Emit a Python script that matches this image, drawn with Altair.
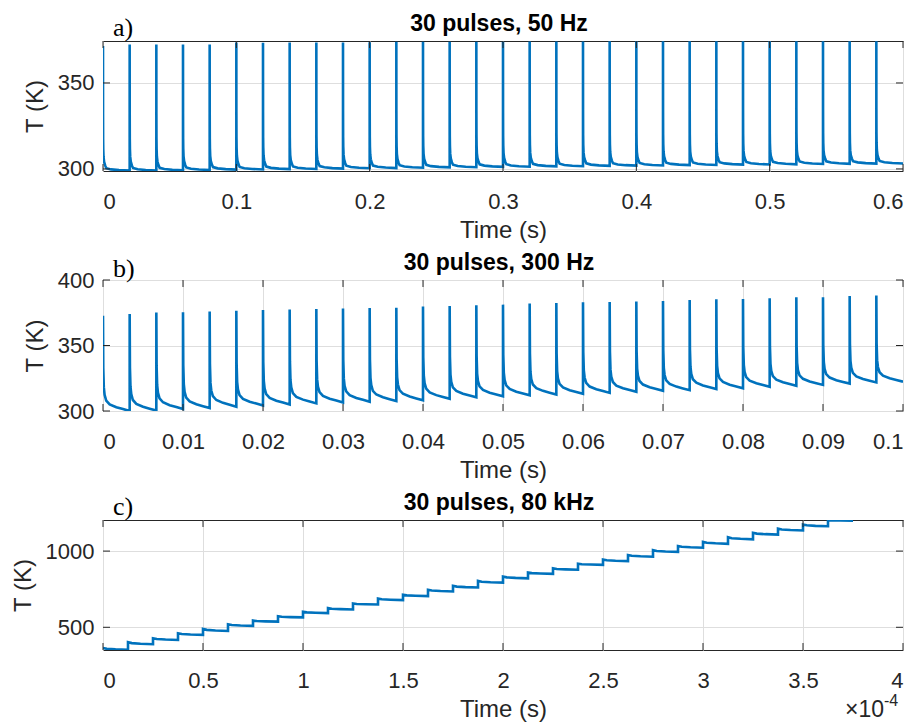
import altair as alt
import pandas as pd

# ---------------- data ----------------
N_PULSES = 30

# panel a: 30 pulses, 50 Hz (time in s)
A_PERIOD = 0.02
A_PEAKS = [371.5, 372.3, 372.3, 372.3, 372.4, 373.5, 373.4, 373.5, 373.5, 373.6,
           373.7, 374.0, 374.0, 374.0, 374.0, 374.0, 374.1, 374.1, 374.1, 374.2,
           374.3, 374.3, 374.3, 374.3, 374.3, 374.3, 374.3, 374.3, 374.3, 374.3]
A_TROUGHS = [299.0, 299.1, 299.2, 299.4, 299.6, 299.7, 299.9, 300.0, 300.2, 300.4,
             300.5, 300.7, 300.9, 301.0, 301.2, 301.3, 301.5, 301.6, 301.8, 301.9,
             302.0, 302.2, 302.3, 302.5, 302.6, 302.7, 302.9, 303.0, 303.1, 303.2]
A_DECAY_PHASE = [0, 0.0017, 0.005, 0.01, 0.02, 0.042, 0.083, 0.125, 0.3, 0.6, 1.0]
A_DECAY_FRAC = [1, 0.45, 0.25, 0.17, 0.11, 0.07, 0.04, 0.02, 0.01, 0.004, 0]

# panel b: 30 pulses, 300 Hz (time in s)
B_PERIOD = 1 / 300
B_PEAKS = [372.8, 374.0, 375.1, 375.3, 375.9, 376.6, 377.1, 377.5, 377.8, 378.3,
           378.6, 378.9, 379.7, 380.2, 380.7, 381.2, 382.0, 382.5, 383.0, 383.2,
           383.5, 384.0, 384.7, 385.3, 385.5, 386.0, 386.8, 386.9, 387.8, 388.1]
B_TROUGHS = [300.0, 300.3, 301.5, 302.2, 303.3, 304.2, 305.0, 305.8, 306.5, 307.1,
             307.6, 308.2, 309.3, 310.4, 311.2, 312.0, 312.6, 313.1, 313.8, 314.6,
             315.4, 315.9, 316.8, 317.4, 318.5, 319.3, 319.9, 320.9, 321.8, 322.4]
B_DECAY_PHASE = [0, 0.01, 0.03, 0.06, 0.12, 0.25, 0.5, 0.75, 1.0]
B_DECAY_FRAC = [1, 0.45, 0.25, 0.17, 0.11, 0.07, 0.04, 0.02, 0]

# panel c: 30 pulses, 80 kHz (time in units of 1e-4 s)
C_PERIOD = 0.125
C_STEP_START = [364, 402, 428, 461, 489, 520, 544, 572, 602, 626,
                656, 688, 713, 746, 772, 804, 833, 859, 887, 917,
                945, 974, 1006, 1033, 1061, 1091, 1120, 1148, 1174, 1203]
C_STEP_END = [352, 389, 417, 450, 476, 509, 537, 565, 593, 617,
              650, 678, 705, 735, 761, 793, 821, 851, 878, 910,
              934, 963, 995, 1022, 1048, 1077, 1108, 1135, 1163, 1200]
C_DECAY_PHASE = [0, 0.15, 0.5, 1.0]
C_DECAY_FRAC = [1, 0.55, 0.25, 0]

# axes
A_XTICKS = [0, 0.1, 0.2, 0.3, 0.4, 0.5, 0.6]
A_YTICKS = [300, 350]
B_XTICKS = [0, 0.01, 0.02, 0.03, 0.04, 0.05, 0.06, 0.07, 0.08, 0.09, 0.1]
B_YTICKS = [300, 350, 400]
C_XTICKS = [0, 0.5, 1, 1.5, 2, 2.5, 3, 3.5, 4]
C_YTICKS = [500, 1000]

TITLES = ["30 pulses, 50 Hz", "30 pulses, 300 Hz", "30 pulses, 80 kHz"]
LETTERS = ["a)", "b)", "c)"]

BLUE = "#0072BD"
AXC = "#262626"
FONT = "Liberation Sans"
W = 800


def pulse_frame(period, peaks, ends, phases, fracs):
    rows = []
    i = 0
    for k in range(N_PULSES):
        t0 = k * period
        for ph, f in zip(phases, fracs):
            rows.append({"i": i, "t": t0 + ph * period,
                         "T": ends[k] + (peaks[k] - ends[k]) * f})
            i += 1
    return pd.DataFrame(rows)


df_a = pulse_frame(A_PERIOD, A_PEAKS, A_TROUGHS, A_DECAY_PHASE, A_DECAY_FRAC)
df_b = pulse_frame(B_PERIOD, B_PEAKS, B_TROUGHS, B_DECAY_PHASE, B_DECAY_FRAC)
df_c = pulse_frame(C_PERIOD, C_STEP_START, C_STEP_END, C_DECAY_PHASE, C_DECAY_FRAC)


def text_layer(s, **kw):
    return alt.Chart(pd.DataFrame({"s": [s]})).mark_text(**kw)


def panel(df, xdom, ydom, xt, yt, title, letter, H, letter_y, extra=None):
    xs = alt.Scale(domain=xdom, nice=False, zero=False)
    ys = alt.Scale(domain=ydom, nice=False, zero=False)
    xax = alt.Axis(values=xt, format="~g", title="Time (s)", grid=True,
                   ticks=False, domain=False, labelPadding=20, titlePadding=6)
    yax = alt.Axis(values=yt, format="d", title="T (K)", grid=True, ticks=False,
                   domain=False, labelPadding=9, titlePadding=10)
    line = alt.Chart(df).mark_line(color=BLUE, strokeWidth=2.6, clip=True).encode(
        x=alt.X("t:Q", scale=xs, axis=xax),
        y=alt.Y("T:Q", scale=ys, axis=yax),
        order="i:Q",
    )
    xtd = pd.DataFrame({"t": xt})
    ytd = pd.DataFrame({"T": yt})
    xb = alt.Chart(xtd).mark_rule(color=AXC, strokeWidth=1).encode(
        x=alt.X("t:Q", scale=xs, axis=xax), y=alt.value(H), y2=alt.value(H - 7))
    xtop = alt.Chart(xtd).mark_rule(color=AXC, strokeWidth=1).encode(
        x=alt.X("t:Q", scale=xs, axis=xax), y=alt.value(0), y2=alt.value(7))
    yl = alt.Chart(ytd).mark_rule(color=AXC, strokeWidth=1).encode(
        y=alt.Y("T:Q", scale=ys, axis=yax), x=alt.value(0), x2=alt.value(7))
    yr = alt.Chart(ytd).mark_rule(color=AXC, strokeWidth=1).encode(
        y=alt.Y("T:Q", scale=ys, axis=yax), x=alt.value(W - 7), x2=alt.value(W))
    lab = text_layer(letter, font="Liberation Serif", fontSize=26, align="left",
                     baseline="alphabetic", color="black").encode(
        x=alt.value(10), y=alt.value(letter_y), text="s:N")
    ttl = text_layer(title, font=FONT, fontSize=23, fontWeight="bold",
                     align="center", baseline="alphabetic", color="black").encode(
        x=alt.value(W / 2 - 4), y=alt.value(-10), text="s:N")
    layers = [line, xb, xtop, yl, yr, lab, ttl]
    if extra is not None:
        layers += extra
    return alt.layer(*layers).properties(width=W, height=H)


exp_base = text_layer("\u00d710", font=FONT, fontSize=23, align="right",
                      baseline="alphabetic", color=AXC).encode(
    x=alt.value(W - 19), y=alt.value(130 + 67), text="s:N")
exp_pow = text_layer("-4", font=FONT, fontSize=16, align="left",
                     baseline="alphabetic", color=AXC).encode(
    x=alt.value(W - 19), y=alt.value(130 + 56), text="s:N")

pa = panel(df_a, [0, 0.6], [298.8, 374.4], A_XTICKS, A_YTICKS,
           TITLES[0], LETTERS[0], 130, -5)
pb = panel(df_b, [0, 0.1], [300, 400], B_XTICKS, B_YTICKS,
           TITLES[1], LETTERS[1], 131, -3)
pc = panel(df_c, [0, 4], [351, 1204], C_XTICKS, C_YTICKS,
           TITLES[2], LETTERS[2], 130, -5, extra=[exp_base, exp_pow])

chart = alt.vconcat(pa, pb, pc, spacing=8).properties(
    padding={"left": 2, "top": 4, "right": 0, "bottom": 0}
).configure_view(stroke=AXC, strokeWidth=1).configure_axis(
    gridColor="#dedede", gridWidth=1, gridOpacity=1,
    labelFont=FONT, labelFontSize=22, labelColor=AXC,
    titleFont=FONT, titleFontSize=24, titleFontWeight="normal", titleColor=AXC,
)

chart.save("out.html", embed_options={"renderer": "svg", "actions": False})
